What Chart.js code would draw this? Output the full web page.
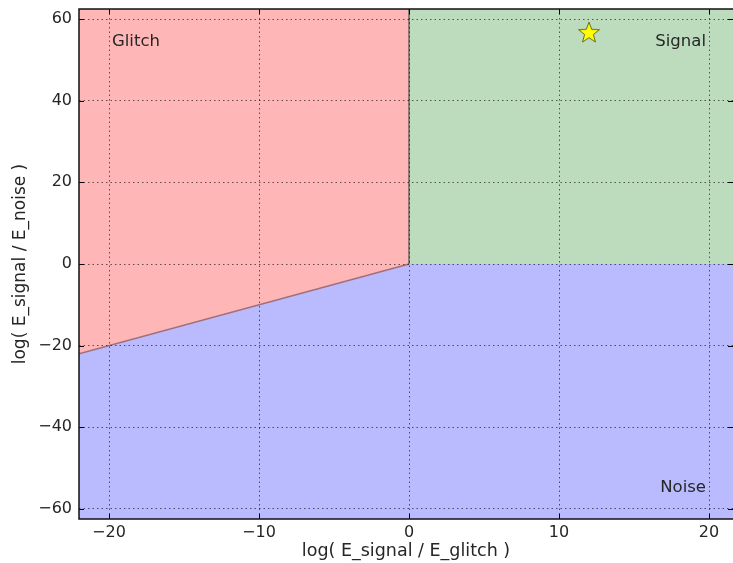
<!DOCTYPE html>
<html>
<head>
<meta charset="utf-8">
<title>Signal / Glitch / Noise regions</title>
<script src="https://cdn.jsdelivr.net/npm/chart.js@4.4.1/dist/chart.umd.min.js"></script>
<style>
  html, body { margin: 0; padding: 0; background: #ffffff; }
  #wrap { width: 733px; height: 563px; }
</style>
</head>
<body>
<div id="wrap"><canvas id="chart" width="733" height="563"></canvas></div>
<script>
"use strict";

/* ─── Data ─────────────────────────────────────────────────── */

/* axis limits */
const X_RANGE = [-22, 21.6];
const Y_RANGE = [-62.45, 62.45];

/* tick labels */
const X_TICKS = [-20, -10, 0, 10, 20];
const Y_TICKS = [-60, -40, -20, 0, 20, 40, 60];

/* region boundaries */
const GLITCH_EDGE = [{ x: -22, y: -22 }, { x: 0, y: 0 }];
const SIGNAL_EDGE = [{ x: 0, y: 0 }, { x: 22, y: 0 }];
const NOISE_EDGE = [{ x: -22, y: -22 }, { x: 0, y: 0 }, { x: 22, y: 0 }];
const SPLIT_EDGE = [{ x: 0, y: 0 }, { x: 0, y: 62.45 }];

/* the observed point */
const STAR_POINT = [{ x: 12, y: 56.8 }];

/* region names and where they sit */
const REGION_LABELS = ["Glitch", "Signal", "Noise"];
const REGION_POS = [
  { x: -19.8, y: 54.4, align: "left" },
  { x: 19.8, y: 54.4, align: "right" },
  { x: 19.8, y: -54.9, align: "right" },
];

const FONT = "'DejaVu Sans', sans-serif";

/* ─── Helpers ──────────────────────────────────────────────── */

/* tick text with a proper minus sign */
function fmtTick(v) {
  return v < 0 ? "\u2212" + Math.abs(v) : String(v);
}

/* a filled yellow five point star used as the marker */
function makeStar() {
  const c = document.createElement("canvas");
  c.width = 26;
  c.height = 26;
  const g = c.getContext("2d");
  g.beginPath();
  for (let i = 0; i < 10; i++) {
    const r = i % 2 === 0 ? 11 : 4.6;
    const a = -Math.PI / 2 + i * Math.PI / 5;
    const px = 13 + r * Math.cos(a);
    const py = 14 + r * Math.sin(a);
    if (i === 0) g.moveTo(px, py); else g.lineTo(px, py);
  }
  g.closePath();
  g.fillStyle = "#ffff00";
  g.fill();
  g.lineWidth = 0.8;
  g.strokeStyle = "#4a4a10";
  g.stroke();
  return c;
}

/* no extra room for labels that hang over the plot edge */
function noOverhang(s) {
  s.paddingTop = 0;
  s.paddingBottom = 0;
  s.paddingLeft = 0;
  s.paddingRight = 0;
}

/* ─── Plugins ──────────────────────────────────────────────── */

/* frame, inward ticks and region names */
const decorPlugin = {
  id: "decor",
  afterDraw(chart) {
    const ctx = chart.ctx;
    const a = chart.chartArea;
    const xs = chart.scales.x;
    const ys = chart.scales.y;
    ctx.save();

    /* region names */
    ctx.fillStyle = "#262626";
    ctx.font = "16.5px " + FONT;
    ctx.textBaseline = "middle";
    REGION_LABELS.forEach(function (name, i) {
      const p = REGION_POS[i];
      ctx.textAlign = p.align;
      ctx.fillText(name, xs.getPixelForValue(p.x), ys.getPixelForValue(p.y));
    });

    /* inward tick marks on all four sides */
    ctx.strokeStyle = "#000000";
    ctx.lineWidth = 1;
    ctx.beginPath();
    X_TICKS.forEach(function (v) {
      const px = Math.round(xs.getPixelForValue(v)) + 0.5;
      ctx.moveTo(px, a.bottom); ctx.lineTo(px, a.bottom - 5);
      ctx.moveTo(px, a.top); ctx.lineTo(px, a.top + 5);
    });
    Y_TICKS.forEach(function (v) {
      const py = Math.round(ys.getPixelForValue(v)) + 0.5;
      ctx.moveTo(a.left, py); ctx.lineTo(a.left + 5, py);
      ctx.moveTo(a.right, py); ctx.lineTo(a.right - 5, py);
    });
    ctx.stroke();

    /* axes frame */
    ctx.lineWidth = 1.5;
    ctx.strokeStyle = "#111111";
    ctx.strokeRect(a.left, a.top, a.right - a.left + 2, a.bottom - a.top);
    ctx.restore();
  },
};

/* ─── Chart ────────────────────────────────────────────────── */

const scaleGrid = {
  color: "rgba(0,0,0,0.6)",
  lineWidth: 1,
  drawTicks: false,
  z: 1,
};

new Chart(document.getElementById("chart"), {
  type: "scatter",
  data: {
    /* earlier datasets are painted on top */
    datasets: [
      {
        label: "event",
        data: STAR_POINT,
        showLine: false,
        pointStyle: makeStar(),
        pointRadius: 11,
      },
      {
        label: "split",
        data: SPLIT_EDGE,
        showLine: true,
        fill: false,
        borderColor: "#4a4a4a",
        borderWidth: 1.2,
        pointRadius: 0,
      },
      {
        label: "Glitch",
        data: GLITCH_EDGE,
        showLine: true,
        fill: "end",
        backgroundColor: "#ffb6b6",
        borderColor: "#a0707a",
        borderWidth: 1.5,
        pointRadius: 0,
      },
      {
        label: "Signal",
        data: SIGNAL_EDGE,
        showLine: true,
        fill: "end",
        backgroundColor: "#bddcbd",
        borderColor: "rgba(0,0,0,0)",
        borderWidth: 0,
        pointRadius: 0,
      },
      {
        label: "Noise",
        data: NOISE_EDGE,
        showLine: true,
        fill: "start",
        backgroundColor: "#babaff",
        borderColor: "rgba(0,0,0,0)",
        borderWidth: 0,
        pointRadius: 0,
      },
    ],
  },
  options: {
    responsive: false,
    animation: false,
    events: [],
    layout: {
      autoPadding: false,
      padding: { top: 9, left: 0, right: 0, bottom: 0 },
    },
    plugins: {
      legend: { display: false },
      tooltip: { enabled: false },
    },
    scales: {
      x: {
        type: "linear",
        min: X_RANGE[0],
        max: X_RANGE[1],
        grid: scaleGrid,
        border: { display: false, dash: [1.5, 3] },
        afterBuildTicks: function (s) {
          s.ticks = X_TICKS.map(function (v) { return { value: v }; });
        },
        afterFit: function (s) { s.height = 44; noOverhang(s); },
        ticks: {
          padding: 4,
          color: "#262626",
          font: { family: FONT, size: 16 },
          maxRotation: 0,
          callback: fmtTick,
        },
        title: {
          display: true,
          text: "log( E_signal / E_glitch )",
          color: "#262626",
          font: { family: FONT, size: 17.5 },
          padding: { top: 0, bottom: 1 },
        },
      },
      y: {
        type: "linear",
        min: Y_RANGE[0],
        max: Y_RANGE[1],
        grid: scaleGrid,
        border: { display: false, dash: [1.5, 3] },
        afterBuildTicks: function (s) {
          s.ticks = Y_TICKS.map(function (v) { return { value: v }; });
        },
        afterFit: function (s) { s.width = 79; noOverhang(s); },
        ticks: {
          padding: 7,
          color: "#262626",
          font: { family: FONT, size: 16 },
          callback: fmtTick,
        },
        title: {
          display: true,
          text: "log( E_signal / E_noise )",
          color: "#262626",
          font: { family: FONT, size: 17 },
          padding: { top: 10, bottom: 0 },
        },
      },
    },
  },
  plugins: [decorPlugin],
});
</script>
</body>
</html>
